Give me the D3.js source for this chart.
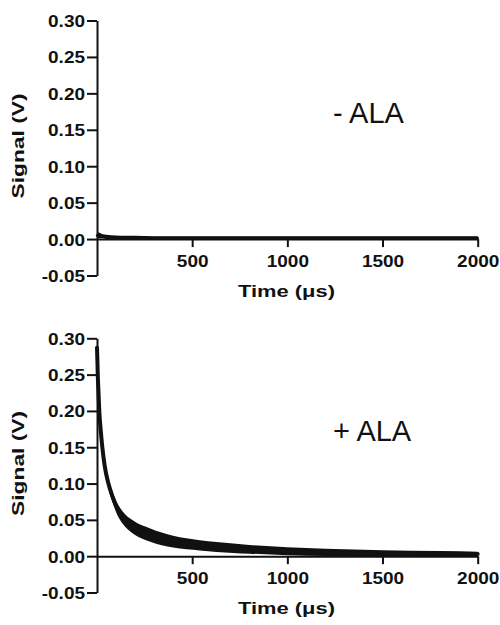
<!DOCTYPE html>
<html>
<head>
<meta charset="utf-8">
<script src="https://cdn.jsdelivr.net/npm/d3@7"></script>
<style>
  html, body { margin: 0; padding: 0; background: #fff; }
  svg { display: block; }
  text { font-family: "Liberation Sans", Arial, Helvetica, sans-serif; fill: #111; }
</style>
</head>
<body>
<svg id="chart" width="500" height="625"></svg>
<script>
// ---- data ----
const xTicks = [500, 1000, 1500, 2000];
const yTicks = [-0.05, 0.00, 0.05, 0.10, 0.15, 0.20, 0.25, 0.30];

// "- ALA" trace (top panel)
const timeTop   = [0, 10, 25, 50, 100, 150, 200, 300, 400, 500, 600, 800, 1000, 1200, 1400, 1600, 1800, 2000];
const signalTop = [0.005, 0.005, 0.004, 0.003, 0.0025, 0.002, 0.002, 0.0015, 0.0015, 0.0015, 0.0015, 0.0015, 0.0015, 0.0015, 0.0015, 0.0015, 0.0015, 0.0015];
const spreadTop = [0.004, 0.004, 0.003, 0.003, 0.0025, 0.0025, 0.0025, 0.0025, 0.0025, 0.0025, 0.0025, 0.0025, 0.0025, 0.0025, 0.0025, 0.0025, 0.0025, 0.0025];

// "+ ALA" trace (bottom panel)
const timeBottom   = [0, 2, 4, 8, 12, 20, 28, 40, 60, 80, 100, 135, 190, 280, 400, 540, 716, 800, 1000, 1200, 1500, 1800, 2000];
const signalBottom = [0.287, 0.27, 0.25, 0.225, 0.20, 0.172, 0.15, 0.125, 0.10, 0.083, 0.069, 0.053, 0.040, 0.029, 0.020, 0.015, 0.011, 0.0095, 0.0068, 0.0052, 0.0042, 0.0035, 0.003];
const spreadBottom = [0.003, 0.003, 0.003, 0.004, 0.004, 0.005, 0.005, 0.006, 0.007, 0.0075, 0.008, 0.0085, 0.009, 0.009, 0.008, 0.007, 0.0065, 0.006, 0.0055, 0.005, 0.004, 0.0035, 0.003];

const panelLabels = ["- ALA", "+ ALA"];
const yTitle = "Signal (V)";
const xTitle = "Time (\u03BCs)";

// ---- layout ----
const panels = [
  { t: timeTop, v: signalTop, s: spreadTop, label: panelLabels[0], yTop: 20.5, yBot: 275.5, strokeW: 2.5 },
  { t: timeBottom, v: signalBottom, s: spreadBottom, label: panelLabels[1], yTop: 338.3, yBot: 592.5, strokeW: 4 }
];
const xLeft = 97, xRight = 477.7;
const stretch = 1.15;

const svg = d3.select("#chart");

function stretchText(sel, factor) {
  sel.each(function () {
    const w = this.getComputedTextLength();
    d3.select(this).attr("textLength", w * factor).attr("lengthAdjust", "spacingAndGlyphs");
  });
}

panels.forEach(p => {
  const x = d3.scaleLinear().domain([0, 2000]).range([xLeft, xRight]);
  const y = d3.scaleLinear().domain([-0.05, 0.30]).range([p.yBot, p.yTop]);
  const g = svg.append("g");
  const y0 = y(0);

  // y axis
  const yAxis = g.append("g")
    .attr("transform", `translate(${xLeft},0)`)
    .call(d3.axisLeft(y).tickValues(yTicks).tickSize(10).tickSizeOuter(0).tickPadding(2)
      .tickFormat(d => d.toFixed(2)));
  // x axis at y = 0
  const xAxis = g.append("g")
    .attr("transform", `translate(0,${y0})`)
    .call(d3.axisBottom(x).tickValues(xTicks).tickSize(8).tickSizeOuter(0)
      .tickFormat(d3.format("d")));

  [yAxis, xAxis].forEach(a => {
    a.select(".domain").attr("stroke", "#111").attr("stroke-width", 2);
    a.selectAll(".tick line").attr("stroke", "#111").attr("stroke-width", 2);
    a.selectAll(".tick text").attr("fill", "#111")
      .style("font-size", "16.5px").style("font-weight", "bold");
  });
  yAxis.selectAll(".tick text").attr("dy", "0.36em");
  xAxis.selectAll(".tick text").attr("y", 28).attr("dy", 0);
  stretchText(yAxis.selectAll(".tick text"), stretch);
  stretchText(xAxis.selectAll(".tick text"), stretch);

  // trace: noise band + line
  const idx = d3.range(p.t.length);
  const area = d3.area()
    .x(i => x(p.t[i]))
    .y0(i => y(p.v[i] - p.s[i]))
    .y1(i => y(p.v[i] + p.s[i]))
    .curve(d3.curveMonotoneX);
  const line = d3.line()
    .x(i => x(p.t[i]))
    .y(i => y(p.v[i]))
    .curve(d3.curveMonotoneX);
  g.append("path").datum(idx).attr("d", area).attr("fill", "#111");
  g.append("path").datum(idx).attr("d", line)
    .attr("fill", "none").attr("stroke", "#111").attr("stroke-width", p.strokeW)
    .attr("stroke-linejoin", "round").attr("stroke-linecap", "round");

  // axis titles
  const yMid = (p.yTop + p.yBot) / 2 - 2;
  g.append("text")
    .attr("transform", `translate(24,${yMid}) rotate(-90)`)
    .attr("text-anchor", "middle")
    .attr("textLength", 105).attr("lengthAdjust", "spacingAndGlyphs")
    .style("font-size", "17px").style("font-weight", "bold")
    .text(yTitle);
  g.append("text")
    .attr("x", 286.5).attr("y", y0 + 58)
    .attr("text-anchor", "middle")
    .attr("textLength", 97).attr("lengthAdjust", "spacingAndGlyphs")
    .style("font-size", "16.5px").style("font-weight", "bold")
    .text(xTitle);

  // panel label
  g.append("text")
    .attr("x", 333).attr("y", y(0.30) + 102.5)
    .style("font-size", "29px")
    .text(p.label);
});
</script>
</body>
</html>
